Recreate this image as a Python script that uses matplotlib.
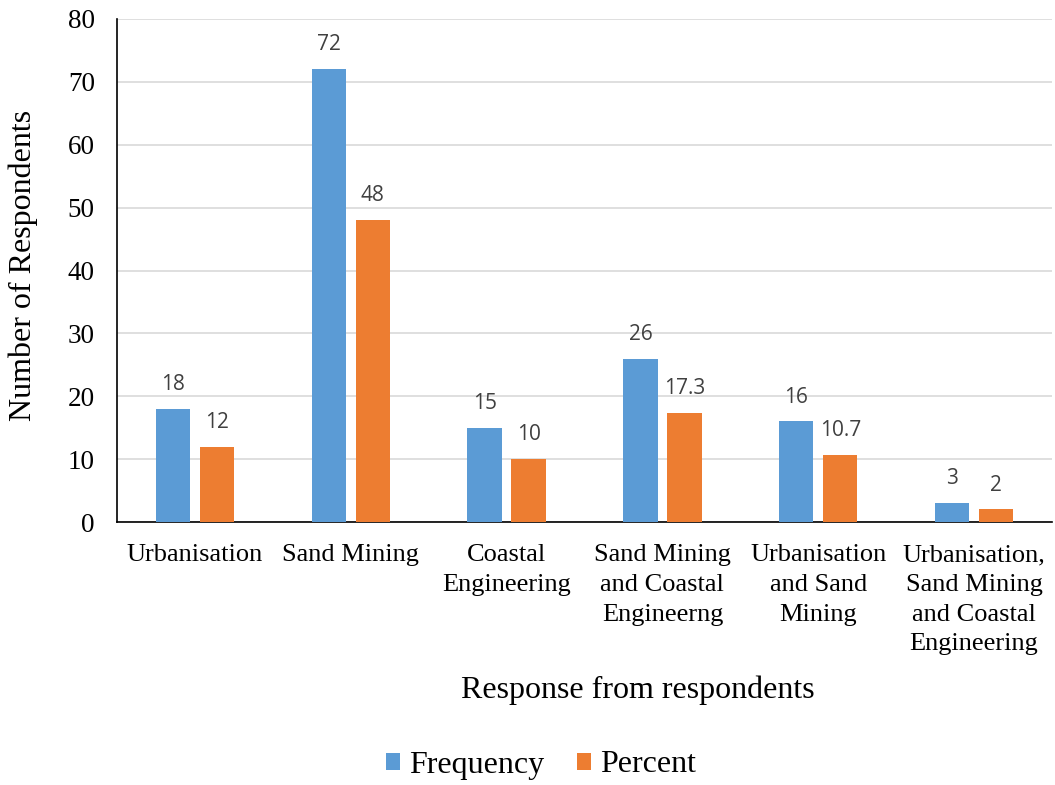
import matplotlib
matplotlib.use("Agg")
import matplotlib.pyplot as plt
import numpy as np

categories = ["Urbanisation", "Sand Mining", "Coastal\nEngineering",
              "Sand Mining\nand Coastal\nEngineerng", "Urbanisation\nand Sand\nMining",
              "Urbanisation,\nSand Mining\nand Coastal\nEngineering"]
frequency = [18, 72, 15, 26, 16, 3]
percent = [12, 48, 10, 17.3, 10.7, 2]
freq_labels = ["18", "72", "15", "26", "16", "3"]
pct_labels = ["12", "48", "10", "17.3", "10.7", "2"]
yticks = [0, 10, 20, 30, 40, 50, 60, 70, 80]

serif = "Liberation Serif"
sans = "Open Sans"
blue = "#5B9BD5"
orange = "#ED7D31"

fig = plt.figure(figsize=(10.55, 7.85), dpi=100)
ax = fig.add_axes([117/1055, 1 - 522/785, (1052-117)/1055, (522-19)/785])

x = np.arange(len(categories))
w = 0.22
off = 0.141
b1 = ax.bar(x - off, frequency, w, color=blue, label="Frequency", zorder=3)
b2 = ax.bar(x + off, percent, w, color=orange, label="Percent", zorder=3)

for bars, labs in ((b1, freq_labels), (b2, pct_labels)):
    for r, t in zip(bars, labs):
        ax.annotate(t, (r.get_x() + r.get_width()/2, r.get_height()),
                    xytext=(0, 10), textcoords="offset points", ha="center", va="bottom",
                    fontsize=15, family=sans, color="#404040")

ax.set_xlim(-0.5, len(categories) - 0.5)
ax.set_ylim(0, 80)
ax.set_yticks(yticks)
ax.set_yticklabels([str(v) for v in yticks], fontsize=19.5, family=serif)
ax.set_xticks(x)
ax.set_xticklabels(categories, fontsize=19, family=serif, linespacing=1.45)
ax.tick_params(axis="x", length=0, pad=16)
ax.tick_params(axis="y", length=0, pad=16)
ax.yaxis.grid(True, color="#D9D9D9", linewidth=1.2, zorder=0)
ax.set_axisbelow(True)
for s in ("top", "right"):
    ax.spines[s].set_visible(False)
ax.spines["left"].set_linewidth(1.2)
ax.spines["bottom"].set_linewidth(1.2)

ax.set_ylabel("Number of Respondents", fontsize=23, family=serif)
ax.yaxis.set_label_coords(-79/935, 0.5 + 5/503)
fig.text(638/1055, 1 - 690/785, "Response from respondents", fontsize=23, family=serif,
         ha="center", va="center")
leg = fig.legend(handles=[b1, b2], labels=["Frequency", "Percent"], loc="center",
                 bbox_to_anchor=(541/1055, 1 - 765/785), ncol=2, frameon=False,
                 prop={"family": serif, "size": 23}, handlelength=0.45, handleheight=0.45,
                 handletextpad=0.3, columnspacing=1.0)

fig.savefig("out.png", dpi=100)
